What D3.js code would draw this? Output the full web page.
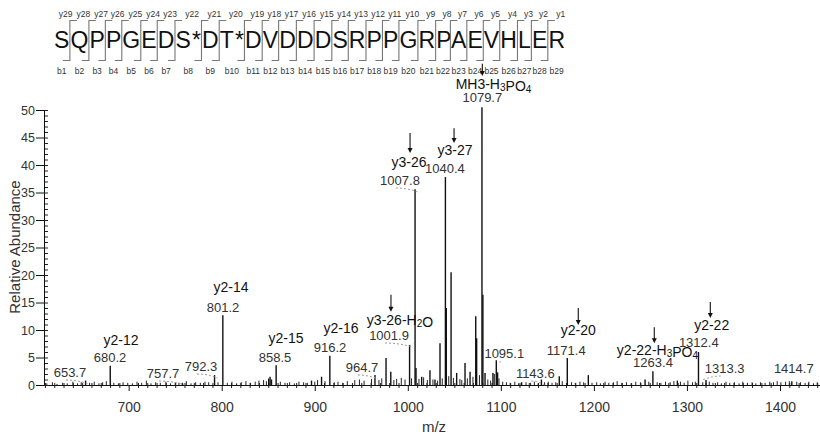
<!DOCTYPE html>
<html>
<head>
<meta charset="utf-8">
<script src="https://cdn.jsdelivr.net/npm/d3@7"></script>
<style>
  body { margin: 0; background: #fff; }
  text { font-family: Arial, "Liberation Sans", sans-serif; }
</style>
</head>
<body>
<svg id="vis" width="820" height="437"></svg>
<script>
// Peptide sequence (residue + modification mark)
const residues = ["S","Q","P","P","G","E","D","S*","D","T*","D","V","D","D","D","S","R","P","P","G","R","P","A","E","V","H","L","E","R"];

// Main peaks (m/z, relative abundance)
const peakMz  = [653.7, 680.2, 757.7, 792.3, 801.2, 850.5, 852.0, 853.5, 858.5, 896.5, 907.3, 916.2, 964.7, 976.6, 981.7,
                 1001.9, 1007.8, 1008.8, 1014.9, 1023.8, 1029.2, 1034.6, 1040.4, 1041.4, 1046.5, 1052.5, 1061.5, 1066.9,
                 1073.0, 1074.0, 1079.7, 1080.7, 1083.0, 1091.5, 1095.1, 1096.5, 1122.3, 1143.6, 1162.8, 1171.4, 1194.0,
                 1255.0, 1263.4, 1289.7, 1312.4, 1320.5, 1412.7];
const peakInt = [0.8, 3.5, 0.4, 1.8, 12.7, 1.2, 1.5, 1.0, 3.6, 0.8, 1.5, 5.3, 1.8, 4.9, 2.4,
                 7.3, 35.6, 3.1, 1.5, 2.7, 1.0, 7.6, 37.8, 14.0, 20.5, 2.2, 4.0, 2.4,
                 12.5, 8.5, 50.5, 16.4, 2.2, 2.2, 4.5, 2.3, 0.5, 1.0, 1.6, 4.9, 1.8,
                 1.0, 2.5, 0.8, 6.0, 0.9, 0.7];

// Baseline (minor) peaks
const minorMz  = [612, 618, 623, 629, 634, 640, 645, 649, 658, 663, 668, 672, 676, 684, 689, 694, 699, 704, 709, 714, 719, 724,
                  729, 734, 740, 745, 750, 754, 762, 767, 772, 777, 782, 786, 796, 806, 811, 816, 821, 826, 831, 836, 840, 845,
                  848, 863, 868, 873, 878, 883, 888, 892, 900, 903, 911, 921, 925, 930, 935, 943, 948, 953, 961, 969, 972, 985,
                  988, 993, 997, 1004, 1012, 1017, 1021, 1027, 1032, 1037, 1044, 1049, 1056, 1058, 1064, 1070, 1077, 1086, 1089,
                  1093, 1098, 1102, 1106, 1110, 1115, 1119, 1127, 1132, 1136, 1140, 1147, 1151, 1155, 1159, 1166, 1176, 1180,
                  1185, 1189, 1198, 1203, 1207, 1212, 1216, 1221, 1225, 1230, 1235, 1240, 1245, 1250, 1259, 1268, 1272, 1277,
                  1282, 1286, 1293, 1297, 1301, 1306, 1309, 1317, 1324, 1328, 1333, 1337, 1342, 1346, 1351, 1356, 1360, 1365,
                  1370, 1374, 1379, 1384, 1389, 1393, 1397, 1401, 1406, 1410, 1418, 1422, 1427, 1431, 1436, 1440];
const minorInt = [0.3, 0.5, 0.2, 0.4, 0.3, 0.6, 0.3, 0.5, 0.4, 0.6, 0.3, 0.5, 0.7, 0.4, 0.3, 0.5, 0.4, 0.3, 0.6, 0.4, 0.8, 0.3,
                  0.5, 0.4, 0.6, 0.3, 0.5, 0.4, 0.7, 0.3, 0.5, 0.4, 0.6, 0.5, 0.5, 0.4, 0.6, 0.3, 0.5, 0.7, 0.4, 0.6, 0.8, 0.9,
                  0.7, 0.6, 0.4, 0.5, 0.3, 0.6, 0.5, 0.4, 0.6, 0.9, 0.7, 0.5, 0.6, 0.4, 0.7, 0.9, 1.0, 0.8, 1.1, 0.9, 1.2, 0.9,
                  1.1, 1.3, 1.0, 1.2, 1.1, 1.4, 0.9, 1.0, 0.8, 1.2, 1.6, 1.3, 1.1, 0.9, 1.2, 1.5, 1.8, 1.0, 0.8,
                  2.0, 1.2, 0.6, 0.5, 0.4, 0.6, 0.3, 0.5, 0.4, 0.6, 0.3, 0.5, 0.6, 0.4, 0.5, 0.7, 0.5, 0.4,
                  0.6, 0.5, 0.4, 0.5, 0.3, 0.6, 0.4, 0.5, 0.7, 0.4, 0.5, 0.3, 0.6, 0.5, 0.6, 0.5, 0.4, 0.6,
                  0.5, 0.7, 0.6, 0.4, 0.8, 0.5, 0.6, 0.5, 0.6, 0.4, 0.5, 0.3, 0.6, 0.4, 0.5, 0.3, 0.6, 0.4,
                  0.5, 0.3, 0.5, 0.4, 0.6, 0.5, 0.7, 0.5, 0.6, 0.7, 0.6, 0.5, 0.4, 0.6, 0.3, 0.5];

// Peak annotations ("_n" = subscript)
const annText = ["653.7", "y2-12", "680.2", "757.7", "792.3", "y2-14", "801.2", "y2-15", "858.5", "y2-16", "916.2",
                 "y3-26-H_2O", "1001.9", "964.7", "y3-26", "1007.8", "y3-27", "1040.4", "MH3-H_3PO_4", "1079.7",
                 "1095.1", "1143.6", "y2-20", "1171.4", "y2-22-H_3PO_4", "1263.4", "y2-22", "1312.4", "1313.3", "1414.7"];
const annLeader = [true, false, false, true, true, false, false, false, false, false, false,
                   false, true, true, false, true, false, false, false, false,
                   true, true, false, false, false, false, false, false, true, false];
// annotation anchors in data units [m/z, abundance] (text centre, baseline)
const annPos = [[636.9, 1.45], [691.8, 7.27], [679.9, 4.18], [736.9, 1.27], [777.7, 2.55], [810.0, 16.9], [801.4, 13.27],
                [869.1, 7.64], [857.3, 4.18], [928.2, 9.45], [916.4, 6.0], [991.6, 10.9], [979.8, 8.18], [950.8, 2.36],
                [1001.3, 39.6], [991.6, 36.36], [1050.7, 41.8], [1039.9, 38.5], [1092.1, 53.8], [1080.1, 51.45],
                [1103.7, 4.9], [1137.0, 1.27], [1183.2, 9.09], [1170.3, 5.45], [1268.3, 5.45], [1263.5, 3.3],
                [1326.6, 10.0], [1312.7, 6.9], [1340.6, 2.18], [1414.8, 2.18]];

// Arrows: m/z, top, bottom (abundance units)
const arrowMz  = [1002.4, 1049.7, 981.9, 1183.2, 1264.9, 1325.1, 1080.1];
const arrowTop = [45.8, 46.7, 16.4, 14.0, 10.5, 15.1, 58.4];
const arrowBot = [42.2, 44.0, 13.3, 10.9, 7.6, 12.2, 56.2];

const width = 820, height = 437;
const svg = d3.select("#vis");

const x = d3.scaleLinear().domain([609, 1443]).range([44, 820]);
const y = d3.scaleLinear().domain([0, 50]).range([385, 110]);

// ---------- peptide header ----------
const seqText = svg.append("text")
    .attr("x", 54).attr("y", 48)
    .attr("font-size", 23)
    .attr("fill", "#111")
    .attr("textLength", 511)
    .attr("lengthAdjust", "spacing")
    .text(residues.join(""));

const node = seqText.node();
let ci = 0;
const resPos = residues.map(r => {
    const s = node.getStartPositionOfChar(ci).x;
    const e = node.getEndPositionOfChar(ci + r.length - 1).x;
    ci += r.length;
    return { s: s, e: e, c: (s + e) / 2 };
});

const marks = svg.append("g").attr("fill", "none").attr("stroke", "#777").attr("stroke-width", 1.1);
for (let i = 0; i < residues.length - 1; i++) {
    const bx = (resPos[i].e + resPos[i + 1].s) / 2;
    marks.append("path").attr("d", `M${bx - 7},60.5H${bx}V20.5H${bx + 7}`);
}

svg.append("g").selectAll("text")
    .data(residues)
    .enter().append("text")
    .attr("x", (d, i) => resPos[i].c + 4)
    .attr("y", 17)
    .attr("font-size", 8.5)
    .attr("fill", "#333")
    .attr("text-anchor", "middle")
    .text((d, i) => "y" + (residues.length - i));

svg.append("g").selectAll("text")
    .data(residues)
    .enter().append("text")
    .attr("x", (d, i) => resPos[i].c)
    .attr("y", 74)
    .attr("font-size", 8.5)
    .attr("fill", "#333")
    .attr("text-anchor", "middle")
    .text((d, i) => "b" + (i + 1));

// ---------- axes ----------
const xMajor = d3.axisBottom(x).tickValues(d3.range(700, 1401, 100))
    .tickSize(6).tickSizeOuter(0).tickPadding(11).tickFormat(d3.format("d"));
const xMinor = d3.axisBottom(x).tickValues(d3.range(610, 1441, 10).filter(d => d % 100 !== 0))
    .tickSize(3).tickSizeOuter(0).tickFormat("");

const gxm = svg.append("g").attr("transform", `translate(0,${y(0)})`).call(xMinor);
gxm.select(".domain").remove();
gxm.selectAll(".tick line").attr("y1", -2).attr("stroke", "#222");

const gx = svg.append("g").attr("transform", `translate(0,${y(0)})`).call(xMajor);
gx.select(".domain").attr("stroke", "#111");
gx.selectAll(".tick line").attr("stroke", "#111");
gx.selectAll(".tick text").attr("font-size", 14).attr("fill", "#333")
    .style("font-family", "Arial, 'Liberation Sans', sans-serif");

const yMajor = d3.axisLeft(y).tickValues(d3.range(0, 51, 5)).tickSize(8).tickSizeOuter(0).tickPadding(1);
const yMinor = d3.axisRight(y).tickValues(d3.range(0, 51, 1)).tickSize(4).tickSizeOuter(0).tickFormat("");

const gym = svg.append("g").attr("transform", "translate(44,0)").call(yMinor);
gym.select(".domain").remove();
gym.selectAll(".tick line").attr("stroke", "#222");

const gy = svg.append("g").attr("transform", "translate(44,0)").call(yMajor);
gy.select(".domain").attr("stroke", "#111");
gy.selectAll(".tick line").attr("stroke", "#111");
gy.selectAll(".tick text").attr("font-size", 12.5).attr("fill", "#333")
    .style("font-family", "Arial, 'Liberation Sans', sans-serif");

svg.append("text")
    .attr("transform", "translate(20,247)rotate(-90)")
    .attr("text-anchor", "middle")
    .attr("font-size", 15).attr("fill", "#333")
    .text("Relative Abundance");

svg.append("text")
    .attr("x", 434).attr("y", 432)
    .attr("text-anchor", "middle")
    .attr("font-size", 15).attr("fill", "#333")
    .text("m/z");

// ---------- spectrum ----------
const minorData = minorMz.map((m, i) => ({ mz: m, v: minorInt[i] }));
svg.append("g").selectAll("line")
    .data(minorData)
    .enter().append("line")
    .attr("x1", d => x(d.mz)).attr("x2", d => x(d.mz))
    .attr("y1", y(0)).attr("y2", d => y(d.v))
    .attr("stroke", "#222").attr("stroke-width", 1);

const peakData = peakMz.map((m, i) => ({ mz: m, v: peakInt[i] }));
svg.append("g").selectAll("line")
    .data(peakData)
    .enter().append("line")
    .attr("x1", d => x(d.mz)).attr("x2", d => x(d.mz))
    .attr("y1", y(0)).attr("y2", d => y(d.v))
    .attr("stroke", "#111").attr("stroke-width", 1.4);

// ---------- annotations ----------
const annData = annText.map((t, i) => ({ t: t, mz: annPos[i][0], v: annPos[i][1], leader: annLeader[i] }));

// dashed leaders from number labels towards their peak
svg.append("g").selectAll("path")
    .data(annData.filter(d => d.leader))
    .enter().append("path")
    .attr("fill", "none").attr("stroke", "#999").attr("stroke-width", 1)
    .attr("stroke-dasharray", "2,2")
    .attr("d", d => {
        const cx = x(d.mz), by = y(d.v);
        const px = x(+d.t);
        return `M${cx - 4},${by + 3}Q${(cx + px) / 2},${by + 3} ${px + 3},${by + 7}`;
    });

const ann = svg.append("g").selectAll("text")
    .data(annData)
    .enter().append("text")
    .attr("x", d => x(d.mz))
    .attr("y", d => y(d.v))
    .attr("text-anchor", "middle")
    .attr("font-size", d => /^\d/.test(d.t) ? 13 : 14)
    .attr("fill", d => /^\d/.test(d.t) ? "#333" : "#111");

ann.each(function (d) {
    const parts = d.t.split(/_(\d)/);
    const el = d3.select(this);
    parts.forEach((p, i) => {
        if (p === "") return;
        if (i % 2 === 1) {
            el.append("tspan").attr("font-size", 10).attr("dy", 2).text(p);
            el.append("tspan").attr("dy", -2).text("");
        } else {
            el.append("tspan").text(p);
        }
    });
});

// arrows
const arrowData = arrowMz.map((m, i) => ({ mz: m, t: arrowTop[i], b: arrowBot[i] }));
const arrows = svg.append("g");
arrows.selectAll("line")
    .data(arrowData)
    .enter().append("line")
    .attr("x1", d => x(d.mz)).attr("x2", d => x(d.mz))
    .attr("y1", d => y(d.t)).attr("y2", d => y(d.b) - 3)
    .attr("stroke", "#111").attr("stroke-width", 1.1);
arrows.selectAll("path")
    .data(arrowData)
    .enter().append("path")
    .attr("fill", "#111")
    .attr("d", d => {
        const ax = x(d.mz), ay = y(d.b);
        return `M${ax - 2.5},${ay - 5}L${ax + 2.5},${ay - 5}L${ax},${ay}Z`;
    });
</script>
</body>
</html>
